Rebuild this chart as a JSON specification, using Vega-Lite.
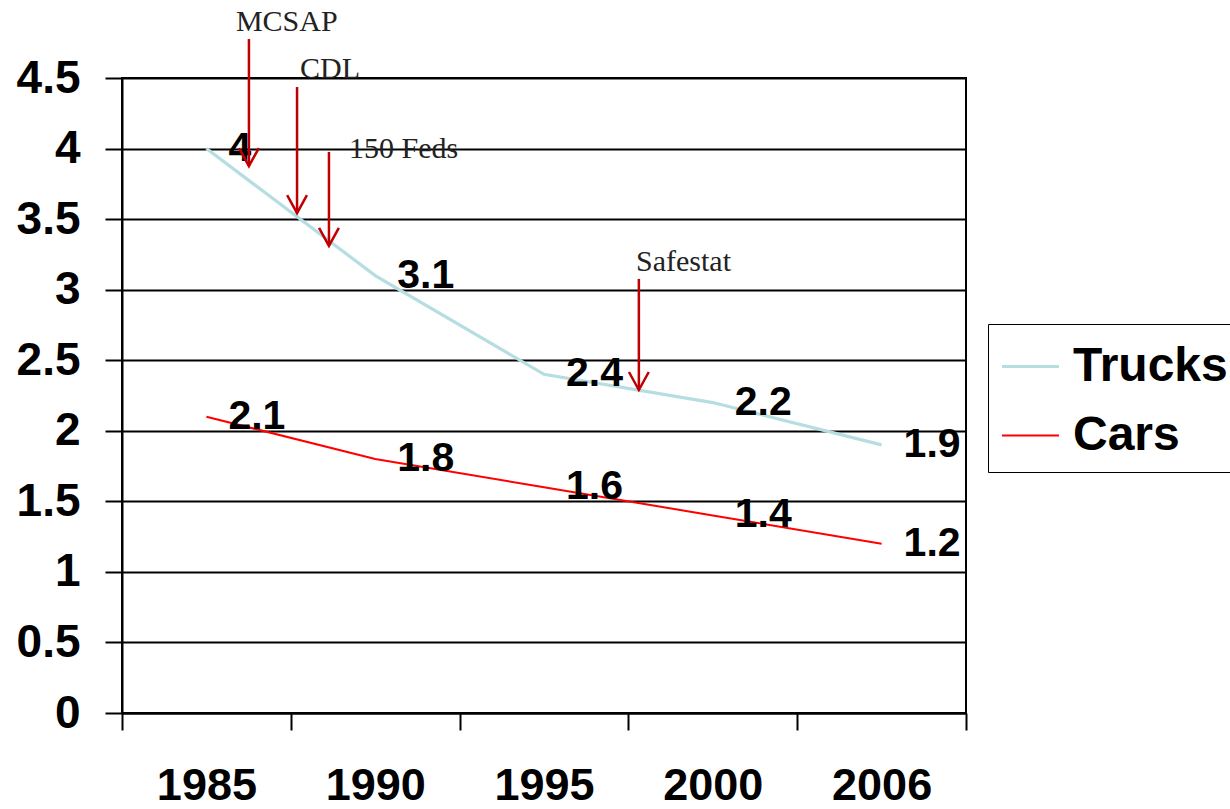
{
  "$schema": "https://vega.github.io/schema/vega-lite/v6.json",
  "width": 844,
  "height": 635,
  "autosize": {"type": "none"},
  "padding": {"left": 122, "top": 78, "right": 264, "bottom": 96},
  "background": "white",
  "config": {
    "view": {"stroke": "black", "strokeWidth": 2},
    "font": "Liberation Sans",
    "axis": {
      "labelFont": "Liberation Sans",
      "labelFontWeight": "bold",
      "labelColor": "black",
      "labelFlush": false,
      "labelOverlap": false,
      "labelBound": false,
      "tickColor": "black",
      "tickWidth": 2,
      "tickSize": 17,
      "domainColor": "black",
      "domainWidth": 2,
      "gridColor": "black",
      "gridWidth": 2,
      "gridOpacity": 1
    }
  },
  "datasets": {
    "rates": [
      {"year": "1985", "pos": 0, "series": "Trucks", "rate": 4.0},
      {"year": "1990", "pos": 1, "series": "Trucks", "rate": 3.1},
      {"year": "1995", "pos": 2, "series": "Trucks", "rate": 2.4},
      {"year": "2000", "pos": 3, "series": "Trucks", "rate": 2.2},
      {"year": "2006", "pos": 4, "series": "Trucks", "rate": 1.9},
      {"year": "1985", "pos": 0, "series": "Cars", "rate": 2.1},
      {"year": "1990", "pos": 1, "series": "Cars", "rate": 1.8},
      {"year": "1995", "pos": 2, "series": "Cars", "rate": 1.6},
      {"year": "2000", "pos": 3, "series": "Cars", "rate": 1.4},
      {"year": "2006", "pos": 4, "series": "Cars", "rate": 1.2}
    ],
    "events": [
      {"event": "MCSAP", "pos": 0.252, "top": 4.776, "tip": 3.876, "label_pos": 0.175, "label_y": 4.833},
      {"event": "CDL", "pos": 0.537, "top": 4.436, "tip": 3.543, "label_pos": 0.555, "label_y": 4.5},
      {"event": "150 Feds", "pos": 0.726, "top": 3.976, "tip": 3.31, "label_pos": 0.845, "label_y": 3.933},
      {"event": "Safestat", "pos": 2.562, "top": 3.076, "tip": 2.289, "label_pos": 2.545, "label_y": 3.132}
    ]
  },
  "layer": [
    {
      "data": {"name": "rates"},
      "mark": {"type": "line", "strokeCap": "butt"},
      "encoding": {
        "x": {
          "field": "pos", "type": "quantitative", "title": null,
          "scale": {"domain": [-0.5, 4.5], "nice": false, "zero": false},
          "axis": {
            "values": [-0.5, 0.5, 1.5, 2.5, 3.5, 4.5],
            "labelExpr": "datum.value < 0 ? '1985' : datum.value < 1 ? '1990' : datum.value < 2 ? '1995' : datum.value < 3 ? '2000' : datum.value < 4 ? '2006' : ''",
            "labelOffset": 84.4,
            "labelFontSize": 45,
            "labelPadding": 33,
            "grid": false
          }
        },
        "y": {
          "field": "rate", "type": "quantitative", "title": null,
          "scale": {"domain": [0, 4.5], "nice": false},
          "axis": {
            "values": [0, 0.5, 1, 1.5, 2, 2.5, 3, 3.5, 4, 4.5],
            "format": "~g",
            "labelFontSize": 46,
            "labelPadding": 25,
            "grid": true
          }
        },
        "color": {
          "field": "series", "type": "nominal",
          "scale": {"domain": ["Trucks", "Cars"], "range": ["#b6dde2", "#ff0000"]},
          "legend": {
            "title": null,
            "orient": "none",
            "legendX": 866,
            "legendY": 246,
            "padding": 12,
            "strokeColor": "black",
            "fillColor": "white",
            "symbolType": "stroke",
            "symbolSize": 3249,
            "symbolStrokeWidth": 3,
            "labelFont": "Liberation Sans",
            "labelFontSize": 48,
            "labelFontWeight": "bold",
            "labelColor": "black",
            "labelLimit": 400,
            "labelOffset": 12,
            "rowPadding": 15
          }
        },
        "strokeWidth": {
          "field": "series", "type": "nominal",
          "scale": {"domain": ["Trucks", "Cars"], "range": [3.2, 2]},
          "legend": null
        }
      }
    },
    {
      "data": {"name": "rates"},
      "mark": {"type": "text", "align": "left", "baseline": "middle", "dx": 22, "fontSize": 41, "fontWeight": "bold", "font": "Liberation Sans", "color": "black"},
      "encoding": {
        "x": {"field": "pos", "type": "quantitative", "title": null},
        "y": {"field": "rate", "type": "quantitative", "title": null},
        "text": {"field": "rate", "type": "quantitative", "format": "~g"}
      }
    },
    {
      "data": {"name": "events"},
      "mark": {"type": "rule", "color": "#c00000", "strokeWidth": 2.5},
      "encoding": {
        "x": {"field": "pos", "type": "quantitative", "title": null},
        "y": {"field": "top", "type": "quantitative", "title": null},
        "y2": {"field": "tip"}
      }
    },
    {
      "data": {"name": "events"},
      "mark": {"type": "point", "shape": "M-0.55,-1L0,0L0.55,-1", "filled": false, "size": 1296, "color": "#c00000", "strokeWidth": 2.5, "opacity": 1},
      "encoding": {
        "x": {"field": "pos", "type": "quantitative", "title": null},
        "y": {"field": "tip", "type": "quantitative", "title": null}
      }
    },
    {
      "data": {"name": "events"},
      "mark": {"type": "text", "align": "left", "baseline": "alphabetic", "font": "Liberation Serif", "fontSize": 30, "color": "#222222"},
      "encoding": {
        "x": {"field": "label_pos", "type": "quantitative", "title": null},
        "y": {"field": "label_y", "type": "quantitative", "title": null},
        "text": {"field": "event", "type": "nominal"}
      }
    }
  ]
}
